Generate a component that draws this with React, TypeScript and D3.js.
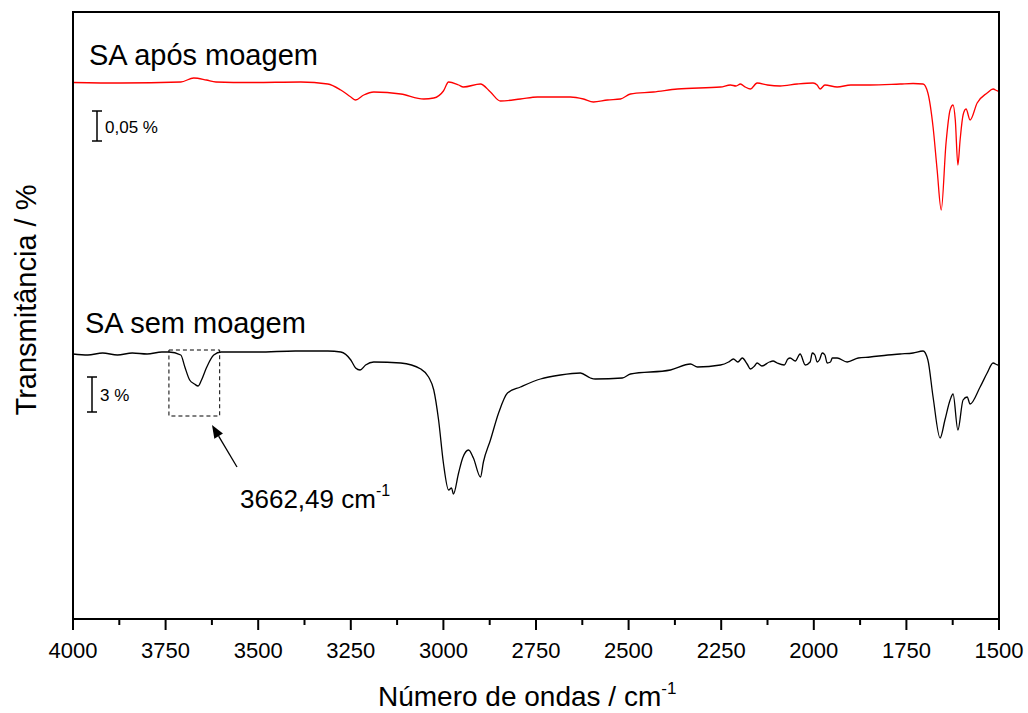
import React from "react";
import * as d3 from "d3";

// Wavenumber (cm-1) vs. transmittance (arbitrary offset units)
const redWavenumbers = [4000, 3871, 3709, 3674, 3640, 3614, 3520, 3385, 3312, 3277, 3250, 3237, 3215, 3188, 3115, 3053, 3026, 3000, 2986, 2959, 2946, 2900, 2873, 2846, 2792, 2746, 2657, 2622, 2595, 2557, 2522, 2495, 2433, 2368, 2252, 2225, 2210, 2198, 2185, 2171, 2153, 2125, 2091, 2045, 2002, 1991, 1983, 1970, 1937, 1900, 1848, 1767, 1732, 1705, 1692, 1678, 1667, 1656, 1643, 1632, 1624, 1618, 1611, 1605, 1597, 1589, 1578, 1559, 1532, 1516, 1503, 1500];
const redValues = [53.65, 53.6, 53.7, 54.1, 53.9, 53.7, 53.65, 53.7, 53.5, 52.9, 52.2, 51.9, 52.4, 52.7, 52.5, 52.0, 52.1, 52.8, 53.7, 53.4, 53.2, 53.5, 52.7, 51.8, 52.0, 52.2, 52.2, 52.0, 51.7, 51.9, 52.0, 52.5, 52.7, 53.0, 53.2, 53.4, 53.3, 53.5, 53.2, 53.0, 53.6, 53.4, 53.3, 53.5, 53.6, 53.4, 53.0, 53.4, 53.2, 53.4, 53.4, 53.5, 53.55, 53.5, 52.6, 49.2, 44.9, 40.9, 47.6, 50.9, 51.4, 49.9, 45.4, 47.9, 50.4, 51.0, 49.9, 51.6, 52.6, 53.0, 52.8, 52.9];

const blackWavenumbers = [4000, 3960, 3920, 3880, 3840, 3800, 3760, 3741, 3709, 3698, 3685, 3672, 3662, 3653, 3640, 3620, 3600, 3500, 3400, 3312, 3277, 3250, 3237, 3225, 3210, 3188, 3115, 3061, 3040, 3026, 3013, 3000, 2986, 2978, 2973, 2959, 2948, 2932, 2919, 2900, 2892, 2873, 2851, 2827, 2792, 2738, 2684, 2630, 2603, 2590, 2517, 2495, 2387, 2333, 2314, 2252, 2230, 2217, 2205, 2193, 2180, 2171, 2160, 2153, 2140, 2120, 2110, 2099, 2080, 2070, 2064, 2050, 2037, 2023, 2010, 2004, 1997, 1991, 1985, 1977, 1970, 1964, 1955, 1950, 1937, 1910, 1880, 1848, 1800, 1767, 1732, 1705, 1692, 1678, 1659, 1646, 1632, 1624, 1611, 1597, 1586, 1578, 1551, 1532, 1516, 1503, 1500];
const blackValues = [26.5, 26.4, 26.6, 26.4, 26.6, 26.5, 26.7, 26.7, 26.4, 25.2, 23.9, 23.5, 23.3, 23.9, 25.1, 26.4, 26.7, 26.7, 26.8, 26.8, 26.7, 25.9, 25.1, 24.9, 25.4, 25.7, 25.6, 25.0, 24.2, 22.9, 19.9, 15.6, 12.9, 13.1, 12.5, 14.6, 16.1, 16.9, 16.1, 14.2, 15.7, 17.9, 20.6, 22.6, 23.2, 24.0, 24.4, 24.6, 24.1, 24.0, 24.1, 24.5, 24.9, 25.5, 25.2, 25.4, 25.7, 26.0, 25.7, 26.1, 25.5, 25.0, 25.3, 25.6, 25.3, 25.7, 25.8, 25.6, 25.4, 26.0, 26.1, 25.8, 26.5, 25.4, 25.7, 26.6, 26.4, 25.7, 25.9, 26.6, 26.4, 25.6, 25.7, 26.1, 26.1, 25.7, 26.1, 26.2, 26.4, 26.5, 26.6, 26.8, 25.9, 22.2, 18.1, 19.9, 21.9, 22.5, 18.9, 21.9, 22.2, 21.5, 23.2, 24.6, 25.6, 25.4, 25.5];

const xTickValues = [4000, 3750, 3500, 3250, 3000, 2750, 2500, 2250, 2000, 1750, 1500];
const xMinorTicks = [3875, 3625, 3375, 3125, 2875, 2625, 2375, 2125, 1875, 1625];

const seriesLabels = ["SA após moagem", "SA sem moagem"];
const scaleBarLabels = ["0,05 %", "3 %"];
const peakLabel = "3662,49";
const highlightBox = { x0: 3741, x1: 3604, y0: 26.9, y1: 20.3 };

const FONT = "'Liberation Sans', Arial, Helvetica, sans-serif";

export default function App() {
  const W = 1028, H = 713;
  const left = 73, right = 999, top = 12, bottom = 619;
  const x = d3.scaleLinear().domain([4000, 1500]).range([left, right]);
  const y = d3.scaleLinear().domain([0, 60.7]).range([bottom, top]);

  const line = d3
    .line<[number, number]>()
    .x((d) => x(d[0]))
    .y((d) => y(d[1]))
    .curve(d3.curveMonotoneX);

  const redData: [number, number][] = redWavenumbers.map((w, i) => [w, redValues[i]]);
  const blackData: [number, number][] = blackWavenumbers.map((w, i) => [w, blackValues[i]]);

  const bx0 = x(highlightBox.x0), bx1 = x(highlightBox.x1);
  const by0 = y(highlightBox.y0), by1 = y(highlightBox.y1);

  // arrow
  const ax1 = 237, ay1 = 467, ax2 = 212, ay2 = 425;
  const ang = Math.atan2(ay2 - ay1, ax2 - ax1);
  const hl = 13, hw = 5;
  const p1 = [ax2, ay2];
  const p2 = [ax2 - hl * Math.cos(ang) + hw * Math.sin(ang), ay2 - hl * Math.sin(ang) - hw * Math.cos(ang)];
  const p3 = [ax2 - hl * Math.cos(ang) - hw * Math.sin(ang), ay2 - hl * Math.sin(ang) + hw * Math.cos(ang)];

  return (
    <svg
      width={W}
      height={H}
      style={{ position: "absolute", left: 0, top: 0, background: "#fff" }}
      fontFamily={FONT}
    >
      <rect x={0} y={0} width={W} height={H} fill="#fff" />
      {/* curves */}
      <path d={line(redData) || ""} fill="none" stroke="#ff0000" strokeWidth={1.3} />
      <path d={line(blackData) || ""} fill="none" stroke="#000" strokeWidth={1.3} />

      {/* frame */}
      <rect x={left} y={top} width={right - left} height={bottom - top} fill="none" stroke="#000" strokeWidth={2} />

      {/* x ticks */}
      {xTickValues.map((t) => (
        <g key={t}>
          <line x1={x(t)} x2={x(t)} y1={bottom} y2={bottom + 11} stroke="#000" strokeWidth={2} />
          <text x={x(t)} y={658} textAnchor="middle" fontSize={22} fill="#000">
            {t}
          </text>
        </g>
      ))}
      {xMinorTicks.map((t) => (
        <line key={t} x1={x(t)} x2={x(t)} y1={bottom} y2={bottom + 6} stroke="#000" strokeWidth={2} />
      ))}

      {/* axis titles */}
      <text x={378} y={706} fontSize={28} fill="#000">
        Número de ondas / cm
        <tspan dy={-12} fontSize={17}>-1</tspan>
      </text>
      <text transform="translate(36,300) rotate(-90)" textAnchor="middle" fontSize={29} fill="#000">
        Transmitância / %
      </text>

      {/* series labels */}
      <text x={89} y={65} fontSize={29} fill="#000">{seriesLabels[0]}</text>
      <text x={85} y={333} fontSize={29} fill="#000">{seriesLabels[1]}</text>

      {/* scale bars */}
      <g stroke="#000" strokeWidth={1.5}>
        <line x1={97} x2={97} y1={111} y2={141} />
        <line x1={92} x2={102} y1={111} y2={111} />
        <line x1={92} x2={102} y1={141} y2={141} />
        <line x1={92} x2={92} y1={377} y2={412} />
        <line x1={87} x2={97} y1={377} y2={377} />
        <line x1={87} x2={97} y1={412} y2={412} />
      </g>
      <text x={105} y={133} fontSize={17} fill="#000">{scaleBarLabels[0]}</text>
      <text x={100} y={401} fontSize={17} fill="#000">{scaleBarLabels[1]}</text>

      {/* highlight box */}
      <rect
        x={Math.min(bx0, bx1)}
        y={Math.min(by0, by1)}
        width={Math.abs(bx1 - bx0)}
        height={Math.abs(by1 - by0)}
        fill="none"
        stroke="#000"
        strokeWidth={1}
        strokeDasharray="4,3"
      />
      {/* arrow */}
      <line x1={ax1} y1={ay1} x2={(p2[0] + p3[0]) / 2} y2={(p2[1] + p3[1]) / 2} stroke="#000" strokeWidth={1.3} />
      <polygon points={`${p1[0]},${p1[1]} ${p2[0]},${p2[1]} ${p3[0]},${p3[1]}`} fill="#000" />
      <text x={240} y={508} fontSize={26} fill="#000">
        {peakLabel} cm
        <tspan dy={-12} fontSize={16}>-1</tspan>
      </text>
    </svg>
  );
}
